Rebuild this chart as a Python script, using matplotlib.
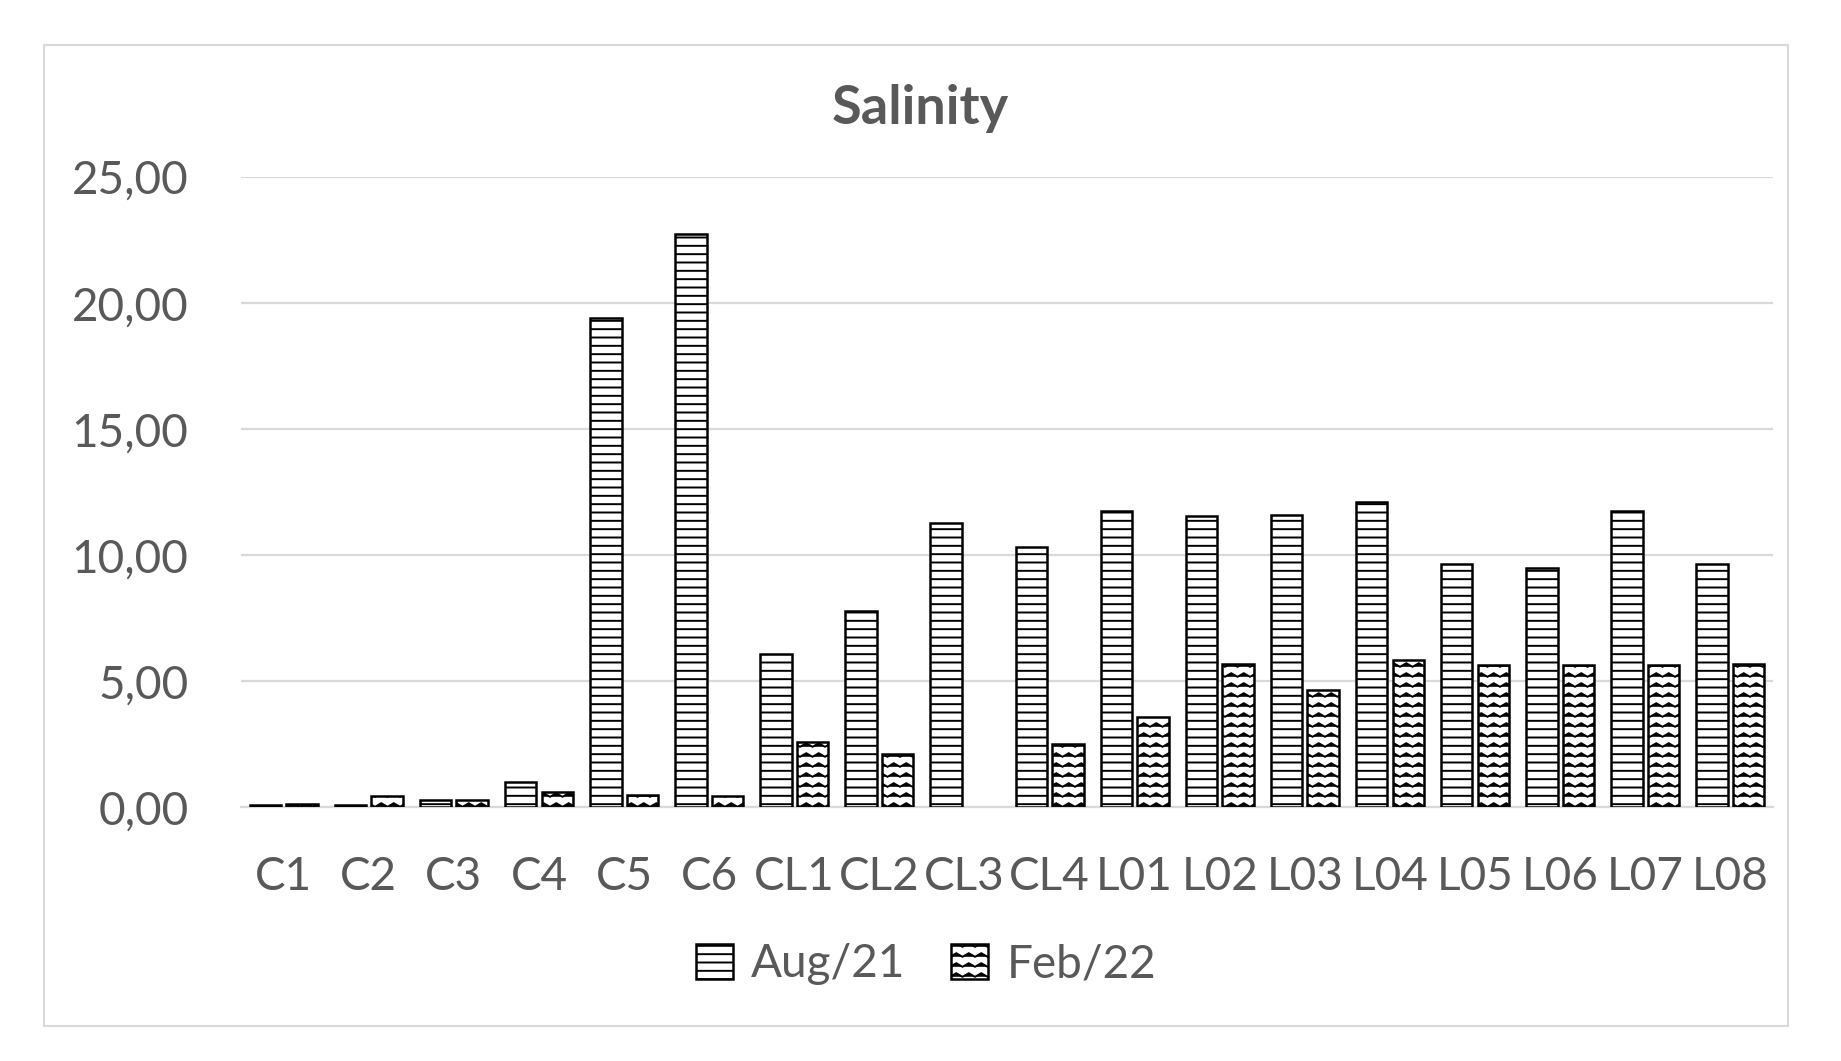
import warnings
import numpy as np
import matplotlib.pyplot as plt
from matplotlib import hatch as mhatch
from matplotlib.path import Path
from matplotlib.patches import Rectangle

stations = ["C1", "C2", "C3", "C4", "C5", "C6", "CL1", "CL2", "CL3", "CL4",
            "L01", "L02", "L03", "L04", "L05", "L06", "L07", "L08"]
aug21 = [0.10, 0.10, 0.30, 1.00, 19.40, 22.75, 6.10, 7.80, 11.30, 10.35,
         11.75, 11.55, 11.60, 12.10, 9.65, 9.50, 11.75, 9.65]
feb22 = [0.15, 0.45, 0.30, 0.60, 0.50, 0.45, 2.60, 2.10, 0.00, 2.50,
         3.60, 5.70, 4.65, 5.85, 5.65, 5.65, 5.65, 5.70]
yticks = [0, 5, 10, 15, 20, 25]


class WaveHatch(mhatch.HatchPatternBase):
    # wavy horizontal lines, like Excel's "wave" pattern fill
    def __init__(self, hatch, density):
        self.num_lines = int(hatch.count("~") * density * 0.85)
        self.segs = 16
        self.num_vertices = self.num_lines * (self.segs + 1)

    def set_vertices_and_codes(self, vertices, codes):
        n = self.segs + 1
        xs = np.linspace(0, 1, n)
        wiggle = np.where(np.arange(n) % 2 == 0, -0.018, 0.018)
        for i in range(self.num_lines):
            y0 = (i + 0.5) / self.num_lines
            vertices[i * n:(i + 1) * n, 0] = xs
            vertices[i * n:(i + 1) * n, 1] = y0 + wiggle
            codes[i * n] = Path.MOVETO
            codes[i * n + 1:(i + 1) * n] = Path.LINETO


mhatch._hatch_types.append(WaveHatch)
warnings.filterwarnings("ignore")

grey = "#595959"
plt.rcParams["font.family"] = ["Lato", "DejaVu Sans"]
plt.rcParams["hatch.linewidth"] = 1.4

fig = plt.figure(figsize=(18.41, 10.61), dpi=100)
fig.patches.append(Rectangle((0.024, 0.033), 0.947, 0.925, transform=fig.transFigure,
                             fill=False, edgecolor="#d9d9d9", linewidth=1.5))
ax = fig.add_axes([0.131, 0.239, 0.832, 0.594])

x = np.arange(len(stations))
w = 0.37
bars_aug = ax.bar(x - 0.215, aug21, w, facecolor="white", edgecolor="black",
                  linewidth=1.8, hatch="--", label="Aug/21", zorder=3)
bars_feb = ax.bar(x + 0.215, feb22, w, facecolor="white", edgecolor="black",
                  linewidth=1.8, hatch="~~", label="Feb/22", zorder=3)
# Excel draws nothing for an empty value
for b in list(bars_aug) + list(bars_feb):
    if b.get_height() == 0:
        b.set_visible(False)

ax.set_xlim(-0.5, len(stations) - 0.5)
ax.set_ylim(0, 25)
ax.set_yticks(yticks)
ax.set_yticklabels([f"{v:.2f}".replace(".", ",") for v in yticks])
ax.set_xticks(x)
ax.set_xticklabels(stations)
ax.grid(axis="y", color="#d9d9d9", linewidth=1.6, zorder=0)
for s in ["top", "right", "left"]:
    ax.spines[s].set_visible(False)
ax.spines["bottom"].set_color("#d9d9d9")
ax.spines["bottom"].set_linewidth(1.6)
ax.tick_params(axis="both", length=0, labelsize=33, labelcolor=grey)
ax.tick_params(axis="y", pad=38)
ax.tick_params(axis="x", pad=35)

fig.text(0.5, 0.898, "Salinity", ha="center", va="center", fontsize=39,
         fontweight="bold", color=grey)
fig.legend(loc="center", bbox_to_anchor=(0.503, 0.091), ncol=2, frameon=False,
           fontsize=33, labelcolor=grey, handlelength=0.8, handleheight=0.8,
           handletextpad=0.4, columnspacing=1.0)

fig.savefig("out.png", dpi=100)
